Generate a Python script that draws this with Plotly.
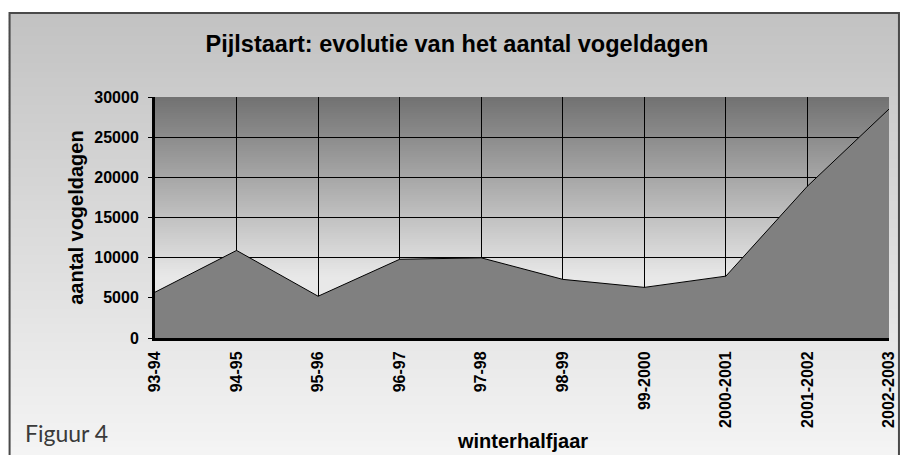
import plotly.graph_objects as go

# winterhalfjaren en aantal vogeldagen (Pijlstaart)
seizoenen = ["93-94", "94-95", "95-96", "96-97", "97-98", "98-99",
             "99-2000", "2000-2001", "2001-2002", "2002-2003"]
vogeldagen = [5700, 10900, 5200, 9800, 9980, 7300, 6300, 7700, 18900, 28500]

titel = "Pijlstaart: evolutie van het aantal vogeldagen"
y_titel = "aantal vogeldagen"
x_titel = "winterhalfjaar"
figuur_tekst = "Figuur 4"

# de pagina zet de figuur 8px naar rechts en naar onder
OFF = 8
W, H = 909 - OFF, 455 - OFF
L, R, T, B = 155 - OFF, 17, 97 - OFF, 117
pw, ph = W - L - R, H - T - B
arial = "Arial, Liberation Sans, sans-serif"


# omzetting van schermpixels (venster) naar papiercoordinaten
def px2x(px):
    return (px - OFF - L) / pw


def px2y(py):
    return (H - B - (py - OFF)) / ph


def grijs(v):
    v = int(max(0, min(255, round(v))))
    return f"rgb({v},{v},{v})"


shapes = []

# achtergrond van het kader: verloop van grijs naar bijna wit
top, bot = 12, 460
stap = 3
for y0 in range(top, bot, stap):
    t = (y0 - top) / (bot - top)
    shapes.append(dict(type="rect", xref="paper", yref="paper", layer="below",
                       x0=px2x(8), x1=px2x(903),
                       y0=px2y(y0 + stap + 0.6), y1=px2y(y0),
                       fillcolor=grijs(194 + (245 - 194) * t), line_width=0))

# kaderrand
shapes.append(dict(type="rect", xref="paper", yref="paper", layer="below",
                   x0=px2x(9), x1=px2x(902), y0=px2y(470), y1=px2y(13),
                   fillcolor="rgba(0,0,0,0)", line=dict(color="#4a4a4a", width=2)))

# tekengebied: verloop van donker- naar lichtgrijs
p_top, p_bot = 97, 338
for y0 in range(p_top, p_bot, 2):
    shapes.append(dict(type="rect", xref="paper", yref="paper", layer="below",
                       x0=0, x1=1, y0=px2y(min(y0 + 2.6, p_bot)), y1=px2y(y0),
                       fillcolor=grijs(min(232, 114 + 0.66 * (y0 - p_top))), line_width=0))

fig = go.Figure()
fig.add_trace(go.Scatter(x=seizoenen, y=vogeldagen, mode="lines", fill="tozeroy",
                         fillcolor="#808080", line=dict(color="black", width=1),
                         hoverinfo="x+y", showlegend=False))

fig.update_layout(
    width=W, height=H,
    margin=dict(l=L, r=R, t=T, b=B),
    paper_bgcolor="white",
    plot_bgcolor="rgba(0,0,0,0)",
    shapes=shapes,
    title=dict(text=titel, xref="container", yref="container",
               x=(457 - OFF) / W, y=1 - (44 - OFF) / H,
               xanchor="center", yanchor="middle",
               font=dict(family=arial, size=23.5, color="black", weight="bold")),
    annotations=[
        dict(text=y_titel, xref="paper", yref="paper", x=px2x(75), y=0.5,
             textangle=-90, showarrow=False, xanchor="center", yanchor="middle",
             font=dict(family=arial, size=20, color="black", weight="bold")),
        dict(text=x_titel, xref="paper", yref="paper", x=0.5, y=px2y(441),
             showarrow=False, xanchor="center", yanchor="middle",
             font=dict(family=arial, size=20, color="black", weight="bold")),
        dict(text=figuur_tekst, xref="paper", yref="paper", x=px2x(22), y=px2y(433),
             showarrow=False, xanchor="left", yanchor="middle",
             font=dict(family="Lato, Open Sans, sans-serif", size=23, color="#3a3a3a")),
    ],
)

fig.update_xaxes(type="category", range=[0, len(seizoenen) - 1],
                 showgrid=True, gridcolor="black", gridwidth=1,
                 showline=True, linecolor="black", linewidth=3,
                 ticks="", tickangle=-90, ticklabelstandoff=4,
                 tickfont=dict(family=arial, size=16, color="black", weight="bold"))
fig.update_yaxes(range=[0, 30000], dtick=5000, tickformat="d",
                 showgrid=True, gridcolor="black", gridwidth=1, zeroline=False,
                 showline=True, linecolor="black", linewidth=3,
                 ticks="outside", ticklen=4, tickcolor="black", tickwidth=1,
                 ticklabelstandoff=6,
                 tickfont=dict(family=arial, size=16, color="black", weight="bold"))

fig.write_html("out.html")
